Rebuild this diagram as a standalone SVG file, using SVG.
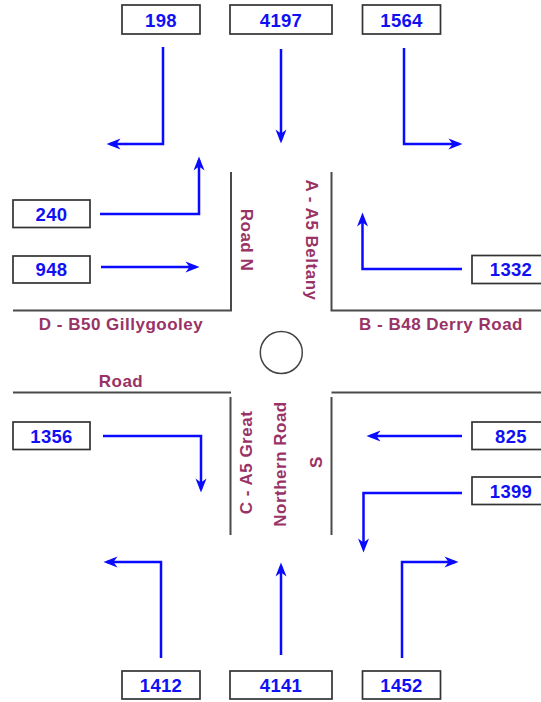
<svg xmlns="http://www.w3.org/2000/svg" width="541" height="702" viewBox="0 0 541 702">
<style>
.box rect{fill:#fff;stroke:#333;stroke-width:1.7}
.box text{font-family:"Liberation Sans",Arial,sans-serif;font-weight:bold;font-size:18.5px;fill:#1010f5;text-anchor:middle;letter-spacing:0.3px}
.road{fill:none;stroke:#4a4a4a;stroke-width:2}
.lbl{font-family:"Liberation Sans",Arial,sans-serif;font-weight:bold;font-size:17px;fill:#993366;text-anchor:middle;letter-spacing:0.5px}
.vl{dominant-baseline:central}
#connectors path{fill:none;stroke:#0a0aff;stroke-width:2.5;marker-end:url(#ah)}
</style>
<defs>
<marker id="ah" markerUnits="userSpaceOnUse" markerWidth="14" markerHeight="12" refX="10.5" refY="6" orient="auto" overflow="visible">
<path d="M0,0.5 L14,6 L0,11.5 L4,6 z" fill="#0a0aff"/>
</marker>
</defs>
<rect width="541" height="702" fill="#fff"/>
<g id="roads">
<path class="road" d="M231,172 V310.5 H13"/>
<path class="road" d="M331.5,172 V310.5 H541"/>
<path class="road" d="M13,392.5 H231 M230.5,397 V535"/>
<path class="road" d="M331.5,392.5 H541 M331.5,397 V535"/>
<circle id="roundabout" cx="281.3" cy="352.5" r="21" fill="#fff" stroke="#444" stroke-width="1.5"/>
</g>
<g id="labels">
<text class="lbl" x="121" y="329.5">D - B50 Gillygooley</text>
<text class="lbl" x="121" y="386.5">Road</text>
<text class="lbl" x="441" y="329.5">B - B48 Derry Road</text>
<text class="lbl vl" transform="translate(311.5,240) rotate(90)">A - A5 Beltany</text>
<text class="lbl vl" transform="translate(246.5,240) rotate(90)">Road N</text>
<text class="lbl vl" transform="translate(246,462.5) rotate(-90)">C - A5 Great</text>
<text class="lbl vl" transform="translate(280.5,464) rotate(-90)">Northern Road</text>
<text class="lbl vl" transform="translate(316.5,462) rotate(-90)">S</text>
</g>
<g id="connectors">
<path d="M163,47 V144 H110"/>
<path d="M281,49 V140"/>
<path d="M404,48 V144 H459"/>
<path d="M100,214 H199 V160"/>
<path d="M101,267 H196"/>
<path d="M462,269 H362.5 V216"/>
<path d="M103,436 H201 V489"/>
<path d="M462,436 H370"/>
<path d="M462,493 H363.5 V549"/>
<path d="M161,658 V562 H107"/>
<path d="M281,655 V566"/>
<path d="M402,658 V562 H455"/>
</g>
<g id="n198" class="box"><rect x="122" y="5" width="78" height="29"/><text x="161" y="26.5">198</text></g>
<g id="n4197" class="box"><rect x="230" y="5" width="102" height="29"/><text x="281" y="26.5">4197</text></g>
<g id="n1564" class="box"><rect x="362.5" y="5" width="78" height="29"/><text x="401.5" y="26.5">1564</text></g>
<g id="n240" class="box"><rect x="13" y="200" width="77" height="27.5"/><text x="51.5" y="220.5">240</text></g>
<g id="n948" class="box"><rect x="13" y="256" width="77" height="27"/><text x="51.5" y="276">948</text></g>
<g id="n1332" class="box"><rect x="472" y="255.5" width="78" height="28"/><text x="511" y="276">1332</text></g>
<g id="n1356" class="box"><rect x="13" y="422" width="77" height="27.5"/><text x="51.5" y="442.5">1356</text></g>
<g id="n825" class="box"><rect x="472" y="422" width="78" height="27.5"/><text x="511" y="442.5">825</text></g>
<g id="n1399" class="box"><rect x="472" y="477" width="78" height="27.5"/><text x="511" y="497.5">1399</text></g>
<g id="n1412" class="box"><rect x="122" y="671" width="78" height="28"/><text x="161" y="692">1412</text></g>
<g id="n4141" class="box"><rect x="230" y="671" width="102" height="28"/><text x="281" y="692">4141</text></g>
<g id="n1452" class="box"><rect x="362.5" y="671" width="78" height="28"/><text x="401.5" y="692">1452</text></g>
</svg>
